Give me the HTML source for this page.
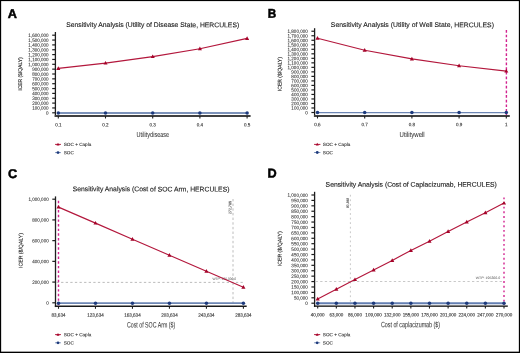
<!DOCTYPE html>
<html><head><meta charset="utf-8"><style>
html,body{margin:0;padding:0;background:#fff;}
body{width:520px;height:353px;overflow:hidden;}
svg{display:block;font-family:"Liberation Sans", sans-serif;will-change:transform;text-rendering:geometricPrecision;}
</style></head><body>
<svg width="520" height="353" viewBox="0 0 520 353">
<rect x="0" y="0" width="520" height="353" fill="#000"/>
<rect x="1.15" y="1.1" width="517.7" height="350.55" fill="#fff"/>
<line x1="52.20" y1="112.80" x2="55.40" y2="112.80" stroke="#1e1e1e" stroke-width="1.2"/>
<text x="48.60" y="114.70" font-size="5.0" text-anchor="end" fill="#262626" font-weight="normal" textLength="2.53" lengthAdjust="spacingAndGlyphs" stroke="#262626" stroke-width="0.06" transform="rotate(0.06 48.60 114.70)">0</text>
<line x1="52.20" y1="107.95" x2="55.40" y2="107.95" stroke="#1e1e1e" stroke-width="1.2"/>
<text x="48.60" y="109.85" font-size="5.0" text-anchor="end" fill="#262626" font-weight="normal" textLength="16.44" lengthAdjust="spacingAndGlyphs" stroke="#262626" stroke-width="0.06" transform="rotate(0.06 48.60 109.85)">100,000</text>
<line x1="52.20" y1="103.10" x2="55.40" y2="103.10" stroke="#1e1e1e" stroke-width="1.2"/>
<text x="48.60" y="105.00" font-size="5.0" text-anchor="end" fill="#262626" font-weight="normal" textLength="16.44" lengthAdjust="spacingAndGlyphs" stroke="#262626" stroke-width="0.06" transform="rotate(0.06 48.60 105.00)">200,000</text>
<line x1="52.20" y1="98.25" x2="55.40" y2="98.25" stroke="#1e1e1e" stroke-width="1.2"/>
<text x="48.60" y="100.15" font-size="5.0" text-anchor="end" fill="#262626" font-weight="normal" textLength="16.44" lengthAdjust="spacingAndGlyphs" stroke="#262626" stroke-width="0.06" transform="rotate(0.06 48.60 100.15)">300,000</text>
<line x1="52.20" y1="93.40" x2="55.40" y2="93.40" stroke="#1e1e1e" stroke-width="1.2"/>
<text x="48.60" y="95.30" font-size="5.0" text-anchor="end" fill="#262626" font-weight="normal" textLength="16.44" lengthAdjust="spacingAndGlyphs" stroke="#262626" stroke-width="0.06" transform="rotate(0.06 48.60 95.30)">400,000</text>
<line x1="52.20" y1="88.55" x2="55.40" y2="88.55" stroke="#1e1e1e" stroke-width="1.2"/>
<text x="48.60" y="90.45" font-size="5.0" text-anchor="end" fill="#262626" font-weight="normal" textLength="16.44" lengthAdjust="spacingAndGlyphs" stroke="#262626" stroke-width="0.06" transform="rotate(0.06 48.60 90.45)">500,000</text>
<line x1="52.20" y1="83.70" x2="55.40" y2="83.70" stroke="#1e1e1e" stroke-width="1.2"/>
<text x="48.60" y="85.60" font-size="5.0" text-anchor="end" fill="#262626" font-weight="normal" textLength="16.44" lengthAdjust="spacingAndGlyphs" stroke="#262626" stroke-width="0.06" transform="rotate(0.06 48.60 85.60)">600,000</text>
<line x1="52.20" y1="78.85" x2="55.40" y2="78.85" stroke="#1e1e1e" stroke-width="1.2"/>
<text x="48.60" y="80.75" font-size="5.0" text-anchor="end" fill="#262626" font-weight="normal" textLength="16.44" lengthAdjust="spacingAndGlyphs" stroke="#262626" stroke-width="0.06" transform="rotate(0.06 48.60 80.75)">700,000</text>
<line x1="52.20" y1="74.00" x2="55.40" y2="74.00" stroke="#1e1e1e" stroke-width="1.2"/>
<text x="48.60" y="75.90" font-size="5.0" text-anchor="end" fill="#262626" font-weight="normal" textLength="16.44" lengthAdjust="spacingAndGlyphs" stroke="#262626" stroke-width="0.06" transform="rotate(0.06 48.60 75.90)">800,000</text>
<line x1="52.20" y1="69.15" x2="55.40" y2="69.15" stroke="#1e1e1e" stroke-width="1.2"/>
<text x="48.60" y="71.05" font-size="5.0" text-anchor="end" fill="#262626" font-weight="normal" textLength="16.44" lengthAdjust="spacingAndGlyphs" stroke="#262626" stroke-width="0.06" transform="rotate(0.06 48.60 71.05)">900,000</text>
<line x1="52.20" y1="64.30" x2="55.40" y2="64.30" stroke="#1e1e1e" stroke-width="1.2"/>
<text x="48.60" y="66.20" font-size="5.0" text-anchor="end" fill="#262626" font-weight="normal" textLength="20.24" lengthAdjust="spacingAndGlyphs" stroke="#262626" stroke-width="0.06" transform="rotate(0.06 48.60 66.20)">1,000,000</text>
<line x1="52.20" y1="59.45" x2="55.40" y2="59.45" stroke="#1e1e1e" stroke-width="1.2"/>
<text x="48.60" y="61.35" font-size="5.0" text-anchor="end" fill="#262626" font-weight="normal" textLength="20.24" lengthAdjust="spacingAndGlyphs" stroke="#262626" stroke-width="0.06" transform="rotate(0.06 48.60 61.35)">1,100,000</text>
<line x1="52.20" y1="54.60" x2="55.40" y2="54.60" stroke="#1e1e1e" stroke-width="1.2"/>
<text x="48.60" y="56.50" font-size="5.0" text-anchor="end" fill="#262626" font-weight="normal" textLength="20.24" lengthAdjust="spacingAndGlyphs" stroke="#262626" stroke-width="0.06" transform="rotate(0.06 48.60 56.50)">1,200,000</text>
<line x1="52.20" y1="49.75" x2="55.40" y2="49.75" stroke="#1e1e1e" stroke-width="1.2"/>
<text x="48.60" y="51.65" font-size="5.0" text-anchor="end" fill="#262626" font-weight="normal" textLength="20.24" lengthAdjust="spacingAndGlyphs" stroke="#262626" stroke-width="0.06" transform="rotate(0.06 48.60 51.65)">1,300,000</text>
<line x1="52.20" y1="44.90" x2="55.40" y2="44.90" stroke="#1e1e1e" stroke-width="1.2"/>
<text x="48.60" y="46.80" font-size="5.0" text-anchor="end" fill="#262626" font-weight="normal" textLength="20.24" lengthAdjust="spacingAndGlyphs" stroke="#262626" stroke-width="0.06" transform="rotate(0.06 48.60 46.80)">1,400,000</text>
<line x1="52.20" y1="40.05" x2="55.40" y2="40.05" stroke="#1e1e1e" stroke-width="1.2"/>
<text x="48.60" y="41.95" font-size="5.0" text-anchor="end" fill="#262626" font-weight="normal" textLength="20.24" lengthAdjust="spacingAndGlyphs" stroke="#262626" stroke-width="0.06" transform="rotate(0.06 48.60 41.95)">1,500,000</text>
<line x1="52.20" y1="35.20" x2="55.40" y2="35.20" stroke="#1e1e1e" stroke-width="1.2"/>
<text x="48.60" y="37.10" font-size="5.0" text-anchor="end" fill="#262626" font-weight="normal" textLength="20.24" lengthAdjust="spacingAndGlyphs" stroke="#262626" stroke-width="0.06" transform="rotate(0.06 48.60 37.10)">1,600,000</text>
<line x1="55.40" y1="32.00" x2="55.40" y2="116.95" stroke="#1e1e1e" stroke-width="1.3"/>
<line x1="54.75" y1="116.00" x2="250.60" y2="116.00" stroke="#404040" stroke-width="1.9"/>
<line x1="58.30" y1="116.00" x2="58.30" y2="118.50" stroke="#1e1e1e" stroke-width="1.1"/>
<text x="58.30" y="126.40" font-size="5.0" text-anchor="middle" fill="#262626" font-weight="normal" textLength="6.32" lengthAdjust="spacingAndGlyphs" stroke="#262626" stroke-width="0.1" transform="rotate(0.06 58.30 126.40)">0.1</text>
<line x1="105.50" y1="116.00" x2="105.50" y2="118.50" stroke="#1e1e1e" stroke-width="1.1"/>
<text x="105.50" y="126.40" font-size="5.0" text-anchor="middle" fill="#262626" font-weight="normal" textLength="6.32" lengthAdjust="spacingAndGlyphs" stroke="#262626" stroke-width="0.1" transform="rotate(0.06 105.50 126.40)">0.2</text>
<line x1="152.70" y1="116.00" x2="152.70" y2="118.50" stroke="#1e1e1e" stroke-width="1.1"/>
<text x="152.70" y="126.40" font-size="5.0" text-anchor="middle" fill="#262626" font-weight="normal" textLength="6.32" lengthAdjust="spacingAndGlyphs" stroke="#262626" stroke-width="0.1" transform="rotate(0.06 152.70 126.40)">0.3</text>
<line x1="199.90" y1="116.00" x2="199.90" y2="118.50" stroke="#1e1e1e" stroke-width="1.1"/>
<text x="199.90" y="126.40" font-size="5.0" text-anchor="middle" fill="#262626" font-weight="normal" textLength="6.32" lengthAdjust="spacingAndGlyphs" stroke="#262626" stroke-width="0.1" transform="rotate(0.06 199.90 126.40)">0.4</text>
<line x1="247.10" y1="116.00" x2="247.10" y2="118.50" stroke="#1e1e1e" stroke-width="1.1"/>
<text x="247.10" y="126.40" font-size="5.0" text-anchor="middle" fill="#262626" font-weight="normal" textLength="6.32" lengthAdjust="spacingAndGlyphs" stroke="#262626" stroke-width="0.1" transform="rotate(0.06 247.10 126.40)">0.5</text>
<line x1="58.30" y1="113.00" x2="247.10" y2="113.00" stroke="#7d93ba" stroke-width="1.9"/>
<circle cx="58.30" cy="113.00" r="1.75" fill="#1e3b7d"/>
<circle cx="105.50" cy="113.00" r="1.75" fill="#1e3b7d"/>
<circle cx="152.70" cy="113.00" r="1.75" fill="#1e3b7d"/>
<circle cx="199.90" cy="113.00" r="1.75" fill="#1e3b7d"/>
<circle cx="247.10" cy="113.00" r="1.75" fill="#1e3b7d"/>
<polyline fill="none" stroke="#b3173c" stroke-width="1.15" points="58.30,68.40 105.50,63.10 152.70,56.60 199.90,48.80 247.10,38.40"/>
<path d="M58.30,66.19 L60.35,69.88 L56.25,69.88Z" fill="#a5042a"/>
<path d="M105.50,60.89 L107.55,64.58 L103.45,64.58Z" fill="#a5042a"/>
<path d="M152.70,54.39 L154.75,58.08 L150.65,58.08Z" fill="#a5042a"/>
<path d="M199.90,46.59 L201.95,50.28 L197.85,50.28Z" fill="#a5042a"/>
<path d="M247.10,36.19 L249.15,39.88 L245.05,39.88Z" fill="#a5042a"/>
<text x="66.20" y="27.00" font-size="6.8" text-anchor="start" fill="#222" font-weight="normal" stroke="#222" stroke-width="0.12" transform="rotate(0.06 66.20 27.00)">Sensitivity Analysis (Utility of Disease State, HERCULES)</text>
<text x="136.60" y="137.00" font-size="7.3" text-anchor="start" fill="#383838" font-weight="normal" textLength="32.6" lengthAdjust="spacingAndGlyphs" stroke="#383838" stroke-width="0.06" transform="rotate(0.06 136.60 137.00)">Utilitydisease</text>
<text x="0" y="0" font-size="5.3" fill="#2a2a2a" stroke="#2a2a2a" stroke-width="0.14" text-anchor="middle" textLength="33.5" lengthAdjust="spacingAndGlyphs" transform="translate(22.1,74.0) rotate(-89.94)">ICER ($/QALY)</text>
<line x1="55.10" y1="144.40" x2="60.90" y2="144.40" stroke="#b3173c" stroke-width="1.0"/>
<path d="M58.00,142.78 L59.50,145.48 L56.50,145.48Z" fill="#a5042a"/>
<line x1="55.10" y1="152.60" x2="60.90" y2="152.60" stroke="#7d93ba" stroke-width="1.0"/>
<circle cx="58.00" cy="152.60" r="1.4" fill="#1e3b7d"/>
<text x="63.75" y="146.10" font-size="4.66" text-anchor="start" fill="#333" font-weight="normal" stroke="#333" stroke-width="0.12" transform="rotate(0.06 63.75 146.10)">SOC + Capla</text>
<text x="63.75" y="154.30" font-size="4.66" text-anchor="start" fill="#333" font-weight="normal" stroke="#333" stroke-width="0.12" transform="rotate(0.06 63.75 154.30)">SOC</text>
<text x="7.70" y="17.90" font-size="12.7" text-anchor="start" fill="#000" font-weight="bold" stroke="#000" stroke-width="0.5" transform="rotate(0.06 7.70 17.90)">A</text>
<line x1="311.40" y1="112.50" x2="314.60" y2="112.50" stroke="#1e1e1e" stroke-width="1.2"/>
<text x="307.80" y="114.40" font-size="5.0" text-anchor="end" fill="#262626" font-weight="normal" textLength="2.53" lengthAdjust="spacingAndGlyphs" stroke="#262626" stroke-width="0.06" transform="rotate(0.06 307.80 114.40)">0</text>
<line x1="311.40" y1="107.98" x2="314.60" y2="107.98" stroke="#1e1e1e" stroke-width="1.2"/>
<text x="307.80" y="109.89" font-size="5.0" text-anchor="end" fill="#262626" font-weight="normal" textLength="16.44" lengthAdjust="spacingAndGlyphs" stroke="#262626" stroke-width="0.06" transform="rotate(0.06 307.80 109.89)">100,000</text>
<line x1="311.40" y1="103.47" x2="314.60" y2="103.47" stroke="#1e1e1e" stroke-width="1.2"/>
<text x="307.80" y="105.37" font-size="5.0" text-anchor="end" fill="#262626" font-weight="normal" textLength="16.44" lengthAdjust="spacingAndGlyphs" stroke="#262626" stroke-width="0.06" transform="rotate(0.06 307.80 105.37)">200,000</text>
<line x1="311.40" y1="98.95" x2="314.60" y2="98.95" stroke="#1e1e1e" stroke-width="1.2"/>
<text x="307.80" y="100.86" font-size="5.0" text-anchor="end" fill="#262626" font-weight="normal" textLength="16.44" lengthAdjust="spacingAndGlyphs" stroke="#262626" stroke-width="0.06" transform="rotate(0.06 307.80 100.86)">300,000</text>
<line x1="311.40" y1="94.44" x2="314.60" y2="94.44" stroke="#1e1e1e" stroke-width="1.2"/>
<text x="307.80" y="96.34" font-size="5.0" text-anchor="end" fill="#262626" font-weight="normal" textLength="16.44" lengthAdjust="spacingAndGlyphs" stroke="#262626" stroke-width="0.06" transform="rotate(0.06 307.80 96.34)">400,000</text>
<line x1="311.40" y1="89.92" x2="314.60" y2="89.92" stroke="#1e1e1e" stroke-width="1.2"/>
<text x="307.80" y="91.83" font-size="5.0" text-anchor="end" fill="#262626" font-weight="normal" textLength="16.44" lengthAdjust="spacingAndGlyphs" stroke="#262626" stroke-width="0.06" transform="rotate(0.06 307.80 91.83)">500,000</text>
<line x1="311.40" y1="85.41" x2="314.60" y2="85.41" stroke="#1e1e1e" stroke-width="1.2"/>
<text x="307.80" y="87.31" font-size="5.0" text-anchor="end" fill="#262626" font-weight="normal" textLength="16.44" lengthAdjust="spacingAndGlyphs" stroke="#262626" stroke-width="0.06" transform="rotate(0.06 307.80 87.31)">600,000</text>
<line x1="311.40" y1="80.90" x2="314.60" y2="80.90" stroke="#1e1e1e" stroke-width="1.2"/>
<text x="307.80" y="82.80" font-size="5.0" text-anchor="end" fill="#262626" font-weight="normal" textLength="16.44" lengthAdjust="spacingAndGlyphs" stroke="#262626" stroke-width="0.06" transform="rotate(0.06 307.80 82.80)">700,000</text>
<line x1="311.40" y1="76.38" x2="314.60" y2="76.38" stroke="#1e1e1e" stroke-width="1.2"/>
<text x="307.80" y="78.28" font-size="5.0" text-anchor="end" fill="#262626" font-weight="normal" textLength="16.44" lengthAdjust="spacingAndGlyphs" stroke="#262626" stroke-width="0.06" transform="rotate(0.06 307.80 78.28)">800,000</text>
<line x1="311.40" y1="71.87" x2="314.60" y2="71.87" stroke="#1e1e1e" stroke-width="1.2"/>
<text x="307.80" y="73.77" font-size="5.0" text-anchor="end" fill="#262626" font-weight="normal" textLength="16.44" lengthAdjust="spacingAndGlyphs" stroke="#262626" stroke-width="0.06" transform="rotate(0.06 307.80 73.77)">900,000</text>
<line x1="311.40" y1="67.35" x2="314.60" y2="67.35" stroke="#1e1e1e" stroke-width="1.2"/>
<text x="307.80" y="69.25" font-size="5.0" text-anchor="end" fill="#262626" font-weight="normal" textLength="20.24" lengthAdjust="spacingAndGlyphs" stroke="#262626" stroke-width="0.06" transform="rotate(0.06 307.80 69.25)">1,000,000</text>
<line x1="311.40" y1="62.84" x2="314.60" y2="62.84" stroke="#1e1e1e" stroke-width="1.2"/>
<text x="307.80" y="64.73" font-size="5.0" text-anchor="end" fill="#262626" font-weight="normal" textLength="20.24" lengthAdjust="spacingAndGlyphs" stroke="#262626" stroke-width="0.06" transform="rotate(0.06 307.80 64.73)">1,100,000</text>
<line x1="311.40" y1="58.32" x2="314.60" y2="58.32" stroke="#1e1e1e" stroke-width="1.2"/>
<text x="307.80" y="60.22" font-size="5.0" text-anchor="end" fill="#262626" font-weight="normal" textLength="20.24" lengthAdjust="spacingAndGlyphs" stroke="#262626" stroke-width="0.06" transform="rotate(0.06 307.80 60.22)">1,200,000</text>
<line x1="311.40" y1="53.81" x2="314.60" y2="53.81" stroke="#1e1e1e" stroke-width="1.2"/>
<text x="307.80" y="55.71" font-size="5.0" text-anchor="end" fill="#262626" font-weight="normal" textLength="20.24" lengthAdjust="spacingAndGlyphs" stroke="#262626" stroke-width="0.06" transform="rotate(0.06 307.80 55.71)">1,300,000</text>
<line x1="311.40" y1="49.29" x2="314.60" y2="49.29" stroke="#1e1e1e" stroke-width="1.2"/>
<text x="307.80" y="51.19" font-size="5.0" text-anchor="end" fill="#262626" font-weight="normal" textLength="20.24" lengthAdjust="spacingAndGlyphs" stroke="#262626" stroke-width="0.06" transform="rotate(0.06 307.80 51.19)">1,400,000</text>
<line x1="311.40" y1="44.78" x2="314.60" y2="44.78" stroke="#1e1e1e" stroke-width="1.2"/>
<text x="307.80" y="46.68" font-size="5.0" text-anchor="end" fill="#262626" font-weight="normal" textLength="20.24" lengthAdjust="spacingAndGlyphs" stroke="#262626" stroke-width="0.06" transform="rotate(0.06 307.80 46.68)">1,500,000</text>
<line x1="311.40" y1="40.26" x2="314.60" y2="40.26" stroke="#1e1e1e" stroke-width="1.2"/>
<text x="307.80" y="42.16" font-size="5.0" text-anchor="end" fill="#262626" font-weight="normal" textLength="20.24" lengthAdjust="spacingAndGlyphs" stroke="#262626" stroke-width="0.06" transform="rotate(0.06 307.80 42.16)">1,600,000</text>
<line x1="311.40" y1="35.75" x2="314.60" y2="35.75" stroke="#1e1e1e" stroke-width="1.2"/>
<text x="307.80" y="37.65" font-size="5.0" text-anchor="end" fill="#262626" font-weight="normal" textLength="20.24" lengthAdjust="spacingAndGlyphs" stroke="#262626" stroke-width="0.06" transform="rotate(0.06 307.80 37.65)">1,700,000</text>
<line x1="311.40" y1="31.23" x2="314.60" y2="31.23" stroke="#1e1e1e" stroke-width="1.2"/>
<text x="307.80" y="33.13" font-size="5.0" text-anchor="end" fill="#262626" font-weight="normal" textLength="20.24" lengthAdjust="spacingAndGlyphs" stroke="#262626" stroke-width="0.06" transform="rotate(0.06 307.80 33.13)">1,800,000</text>
<line x1="314.60" y1="28.20" x2="314.60" y2="116.95" stroke="#1e1e1e" stroke-width="1.3"/>
<line x1="313.95" y1="116.00" x2="509.80" y2="116.00" stroke="#404040" stroke-width="1.9"/>
<line x1="317.50" y1="116.00" x2="317.50" y2="118.50" stroke="#1e1e1e" stroke-width="1.1"/>
<text x="317.50" y="126.30" font-size="5.0" text-anchor="middle" fill="#262626" font-weight="normal" textLength="6.32" lengthAdjust="spacingAndGlyphs" stroke="#262626" stroke-width="0.1" transform="rotate(0.06 317.50 126.30)">0.6</text>
<line x1="364.70" y1="116.00" x2="364.70" y2="118.50" stroke="#1e1e1e" stroke-width="1.1"/>
<text x="364.70" y="126.30" font-size="5.0" text-anchor="middle" fill="#262626" font-weight="normal" textLength="6.32" lengthAdjust="spacingAndGlyphs" stroke="#262626" stroke-width="0.1" transform="rotate(0.06 364.70 126.30)">0.7</text>
<line x1="411.90" y1="116.00" x2="411.90" y2="118.50" stroke="#1e1e1e" stroke-width="1.1"/>
<text x="411.90" y="126.30" font-size="5.0" text-anchor="middle" fill="#262626" font-weight="normal" textLength="6.32" lengthAdjust="spacingAndGlyphs" stroke="#262626" stroke-width="0.1" transform="rotate(0.06 411.90 126.30)">0.8</text>
<line x1="459.10" y1="116.00" x2="459.10" y2="118.50" stroke="#1e1e1e" stroke-width="1.1"/>
<text x="459.10" y="126.30" font-size="5.0" text-anchor="middle" fill="#262626" font-weight="normal" textLength="6.32" lengthAdjust="spacingAndGlyphs" stroke="#262626" stroke-width="0.1" transform="rotate(0.06 459.10 126.30)">0.9</text>
<line x1="506.30" y1="116.00" x2="506.30" y2="118.50" stroke="#1e1e1e" stroke-width="1.1"/>
<text x="506.30" y="126.30" font-size="5.0" text-anchor="middle" fill="#262626" font-weight="normal" textLength="2.53" lengthAdjust="spacingAndGlyphs" stroke="#262626" stroke-width="0.1" transform="rotate(0.06 506.30 126.30)">1</text>
<line x1="506.40" y1="30.00" x2="506.40" y2="115.00" stroke="#d2228f" stroke-width="1.4" stroke-dasharray="2.7 1.95"/>
<line x1="317.50" y1="112.60" x2="506.30" y2="112.60" stroke="#6d86b4" stroke-width="1.4"/>
<circle cx="317.50" cy="112.60" r="1.75" fill="#1e3b7d"/>
<circle cx="364.70" cy="112.60" r="1.75" fill="#1e3b7d"/>
<circle cx="411.90" cy="112.60" r="1.75" fill="#1e3b7d"/>
<circle cx="459.10" cy="112.60" r="1.75" fill="#1e3b7d"/>
<circle cx="506.30" cy="112.60" r="1.75" fill="#1e3b7d"/>
<polyline fill="none" stroke="#b3173c" stroke-width="1.15" points="317.50,38.30 364.70,50.20 411.90,58.90 459.10,65.80 506.30,71.10"/>
<path d="M317.50,36.09 L319.55,39.78 L315.45,39.78Z" fill="#a5042a"/>
<path d="M364.70,47.99 L366.75,51.68 L362.65,51.68Z" fill="#a5042a"/>
<path d="M411.90,56.69 L413.95,60.38 L409.85,60.38Z" fill="#a5042a"/>
<path d="M459.10,63.59 L461.15,67.28 L457.05,67.28Z" fill="#a5042a"/>
<path d="M506.30,68.89 L508.35,72.58 L504.25,72.58Z" fill="#a5042a"/>
<text x="330.80" y="27.00" font-size="6.8" text-anchor="start" fill="#222" font-weight="normal" textLength="163.2" lengthAdjust="spacingAndGlyphs" stroke="#222" stroke-width="0.12" transform="rotate(0.06 330.80 27.00)">Sensitivity Analysis (Utility of Well State, HERCULES)</text>
<text x="399.60" y="137.00" font-size="7.3" text-anchor="start" fill="#383838" font-weight="normal" textLength="25.1" lengthAdjust="spacingAndGlyphs" stroke="#383838" stroke-width="0.06" transform="rotate(0.06 399.60 137.00)">Utilitywell</text>
<text x="0" y="0" font-size="5.3" fill="#2a2a2a" stroke="#2a2a2a" stroke-width="0.14" text-anchor="middle" textLength="34" lengthAdjust="spacingAndGlyphs" transform="translate(281.5,74.1) rotate(-89.94)">ICER ($/QALY)</text>
<line x1="314.10" y1="144.40" x2="320.40" y2="144.40" stroke="#b3173c" stroke-width="1.0"/>
<path d="M317.25,142.78 L318.75,145.48 L315.75,145.48Z" fill="#a5042a"/>
<line x1="314.10" y1="152.50" x2="320.40" y2="152.50" stroke="#7d93ba" stroke-width="1.0"/>
<circle cx="317.25" cy="152.50" r="1.4" fill="#1e3b7d"/>
<text x="322.80" y="146.10" font-size="4.66" text-anchor="start" fill="#333" font-weight="normal" stroke="#333" stroke-width="0.12" transform="rotate(0.06 322.80 146.10)">SOC + Capla</text>
<text x="322.80" y="154.20" font-size="4.66" text-anchor="start" fill="#333" font-weight="normal" stroke="#333" stroke-width="0.12" transform="rotate(0.06 322.80 154.20)">SOC</text>
<text x="267.70" y="17.80" font-size="12.7" text-anchor="start" fill="#000" font-weight="bold" textLength="8.5" lengthAdjust="spacingAndGlyphs" stroke="#000" stroke-width="0.5" transform="rotate(0.06 267.70 17.80)">B</text>
<line x1="52.30" y1="302.80" x2="55.50" y2="302.80" stroke="#1e1e1e" stroke-width="1.2"/>
<text x="48.70" y="304.70" font-size="5.0" text-anchor="end" fill="#262626" font-weight="normal" textLength="2.53" lengthAdjust="spacingAndGlyphs" stroke="#262626" stroke-width="0.06" transform="rotate(0.06 48.70 304.70)">0</text>
<line x1="52.30" y1="282.08" x2="55.50" y2="282.08" stroke="#1e1e1e" stroke-width="1.2"/>
<text x="48.70" y="283.98" font-size="5.0" text-anchor="end" fill="#262626" font-weight="normal" textLength="16.44" lengthAdjust="spacingAndGlyphs" stroke="#262626" stroke-width="0.06" transform="rotate(0.06 48.70 283.98)">200,000</text>
<line x1="52.30" y1="261.36" x2="55.50" y2="261.36" stroke="#1e1e1e" stroke-width="1.2"/>
<text x="48.70" y="263.26" font-size="5.0" text-anchor="end" fill="#262626" font-weight="normal" textLength="16.44" lengthAdjust="spacingAndGlyphs" stroke="#262626" stroke-width="0.06" transform="rotate(0.06 48.70 263.26)">400,000</text>
<line x1="52.30" y1="240.64" x2="55.50" y2="240.64" stroke="#1e1e1e" stroke-width="1.2"/>
<text x="48.70" y="242.54" font-size="5.0" text-anchor="end" fill="#262626" font-weight="normal" textLength="16.44" lengthAdjust="spacingAndGlyphs" stroke="#262626" stroke-width="0.06" transform="rotate(0.06 48.70 242.54)">600,000</text>
<line x1="52.30" y1="219.92" x2="55.50" y2="219.92" stroke="#1e1e1e" stroke-width="1.2"/>
<text x="48.70" y="221.82" font-size="5.0" text-anchor="end" fill="#262626" font-weight="normal" textLength="16.44" lengthAdjust="spacingAndGlyphs" stroke="#262626" stroke-width="0.06" transform="rotate(0.06 48.70 221.82)">800,000</text>
<line x1="52.30" y1="199.20" x2="55.50" y2="199.20" stroke="#1e1e1e" stroke-width="1.2"/>
<text x="48.70" y="201.10" font-size="5.0" text-anchor="end" fill="#262626" font-weight="normal" textLength="20.24" lengthAdjust="spacingAndGlyphs" stroke="#262626" stroke-width="0.06" transform="rotate(0.06 48.70 201.10)">1,000,000</text>
<line x1="55.50" y1="196.40" x2="55.50" y2="307.05" stroke="#1e1e1e" stroke-width="1.3"/>
<line x1="54.85" y1="306.30" x2="246.70" y2="306.30" stroke="#1a1a1a" stroke-width="1.5"/>
<line x1="58.50" y1="306.30" x2="58.50" y2="308.80" stroke="#1e1e1e" stroke-width="1.1"/>
<text x="58.50" y="316.80" font-size="5.0" text-anchor="middle" fill="#262626" font-weight="normal" textLength="13.91" lengthAdjust="spacingAndGlyphs" stroke="#262626" stroke-width="0.1" transform="rotate(0.06 58.50 316.80)">83,634</text>
<line x1="95.48" y1="306.30" x2="95.48" y2="308.80" stroke="#1e1e1e" stroke-width="1.1"/>
<text x="95.48" y="316.80" font-size="5.0" text-anchor="middle" fill="#262626" font-weight="normal" textLength="16.44" lengthAdjust="spacingAndGlyphs" stroke="#262626" stroke-width="0.1" transform="rotate(0.06 95.48 316.80)">123,634</text>
<line x1="132.46" y1="306.30" x2="132.46" y2="308.80" stroke="#1e1e1e" stroke-width="1.1"/>
<text x="132.46" y="316.80" font-size="5.0" text-anchor="middle" fill="#262626" font-weight="normal" textLength="16.44" lengthAdjust="spacingAndGlyphs" stroke="#262626" stroke-width="0.1" transform="rotate(0.06 132.46 316.80)">163,634</text>
<line x1="169.44" y1="306.30" x2="169.44" y2="308.80" stroke="#1e1e1e" stroke-width="1.1"/>
<text x="169.44" y="316.80" font-size="5.0" text-anchor="middle" fill="#262626" font-weight="normal" textLength="16.44" lengthAdjust="spacingAndGlyphs" stroke="#262626" stroke-width="0.1" transform="rotate(0.06 169.44 316.80)">203,634</text>
<line x1="206.42" y1="306.30" x2="206.42" y2="308.80" stroke="#1e1e1e" stroke-width="1.1"/>
<text x="206.42" y="316.80" font-size="5.0" text-anchor="middle" fill="#262626" font-weight="normal" textLength="16.44" lengthAdjust="spacingAndGlyphs" stroke="#262626" stroke-width="0.1" transform="rotate(0.06 206.42 316.80)">243,634</text>
<line x1="243.40" y1="306.30" x2="243.40" y2="308.80" stroke="#1e1e1e" stroke-width="1.1"/>
<text x="243.40" y="316.80" font-size="5.0" text-anchor="middle" fill="#262626" font-weight="normal" textLength="16.44" lengthAdjust="spacingAndGlyphs" stroke="#262626" stroke-width="0.1" transform="rotate(0.06 243.40 316.80)">283,634</text>
<line x1="233.00" y1="199.00" x2="233.00" y2="305.30" stroke="#b4b4b4" stroke-width="0.9" stroke-dasharray="2.4 2.25"/>
<text x="0" y="0" font-size="3.6" fill="#3a3a3a" stroke="#3a3a3a" stroke-width="0.08" text-anchor="middle" textLength="13.0" lengthAdjust="spacingAndGlyphs" transform="translate(231.3,207.55) rotate(-89.94)">272,786</text>
<line x1="56.50" y1="282.40" x2="243.80" y2="282.40" stroke="#b4b4b4" stroke-width="0.9" stroke-dasharray="2.3 2.3"/>
<text x="212.40" y="279.90" font-size="3.4" text-anchor="start" fill="#666" font-weight="normal" textLength="23.8" lengthAdjust="spacingAndGlyphs" stroke="#666" stroke-width="0.04" transform="rotate(0.06 212.40 279.90)">WTP: 195,000.0</text>
<line x1="58.50" y1="200.80" x2="58.50" y2="305.30" stroke="#d2228f" stroke-width="1.4" stroke-dasharray="2.4 2.25"/>
<line x1="58.50" y1="303.20" x2="243.40" y2="303.20" stroke="#6e87b4" stroke-width="1.7"/>
<circle cx="58.50" cy="303.20" r="1.75" fill="#1e3b7d"/>
<circle cx="95.48" cy="303.20" r="1.75" fill="#1e3b7d"/>
<circle cx="132.46" cy="303.20" r="1.75" fill="#1e3b7d"/>
<circle cx="169.44" cy="303.20" r="1.75" fill="#1e3b7d"/>
<circle cx="206.42" cy="303.20" r="1.75" fill="#1e3b7d"/>
<circle cx="243.40" cy="303.20" r="1.75" fill="#1e3b7d"/>
<polyline fill="none" stroke="#b3173c" stroke-width="1.15" points="58.50,207.10 95.48,223.10 132.46,239.30 169.44,255.30 206.42,271.30 243.40,287.20"/>
<path d="M58.50,204.89 L60.55,208.58 L56.45,208.58Z" fill="#a5042a"/>
<path d="M95.48,220.89 L97.53,224.58 L93.43,224.58Z" fill="#a5042a"/>
<path d="M132.46,237.09 L134.51,240.78 L130.41,240.78Z" fill="#a5042a"/>
<path d="M169.44,253.09 L171.49,256.78 L167.39,256.78Z" fill="#a5042a"/>
<path d="M206.42,269.09 L208.47,272.78 L204.37,272.78Z" fill="#a5042a"/>
<path d="M243.40,284.99 L245.45,288.68 L241.35,288.68Z" fill="#a5042a"/>
<text x="72.70" y="191.30" font-size="6.8" text-anchor="start" fill="#222" font-weight="normal" stroke="#222" stroke-width="0.12" transform="rotate(0.06 72.70 191.30)">Sensitivity Analysis (Cost of SOC Arm, HERCULES)</text>
<text x="127.00" y="327.40" font-size="7.9" text-anchor="start" fill="#383838" font-weight="normal" textLength="48.2" lengthAdjust="spacingAndGlyphs" stroke="#383838" stroke-width="0.06" transform="rotate(0.06 127.00 327.40)">Cost of SOC Arm ($)</text>
<text x="0" y="0" font-size="5.3" fill="#2a2a2a" stroke="#2a2a2a" stroke-width="0.14" text-anchor="middle" textLength="35" lengthAdjust="spacingAndGlyphs" transform="translate(22.6,250.5) rotate(-89.94)">ICER ($/QALY)</text>
<line x1="55.10" y1="334.60" x2="60.90" y2="334.60" stroke="#b3173c" stroke-width="1.0"/>
<path d="M58.00,332.98 L59.50,335.68 L56.50,335.68Z" fill="#a5042a"/>
<line x1="55.10" y1="342.80" x2="60.90" y2="342.80" stroke="#7d93ba" stroke-width="1.0"/>
<circle cx="58.00" cy="342.80" r="1.4" fill="#1e3b7d"/>
<text x="63.75" y="336.30" font-size="4.66" text-anchor="start" fill="#333" font-weight="normal" stroke="#333" stroke-width="0.12" transform="rotate(0.06 63.75 336.30)">SOC + Capla</text>
<text x="63.75" y="344.50" font-size="4.66" text-anchor="start" fill="#333" font-weight="normal" stroke="#333" stroke-width="0.12" transform="rotate(0.06 63.75 344.50)">SOC</text>
<text x="7.90" y="178.00" font-size="12.7" text-anchor="start" fill="#000" font-weight="bold" stroke="#000" stroke-width="0.5" transform="rotate(0.06 7.90 178.00)">C</text>
<line x1="311.40" y1="303.20" x2="314.60" y2="303.20" stroke="#1e1e1e" stroke-width="1.2"/>
<text x="307.80" y="305.10" font-size="5.0" text-anchor="end" fill="#262626" font-weight="normal" textLength="2.53" lengthAdjust="spacingAndGlyphs" stroke="#262626" stroke-width="0.06" transform="rotate(0.06 307.80 305.10)">0</text>
<line x1="311.40" y1="297.79" x2="314.60" y2="297.79" stroke="#1e1e1e" stroke-width="1.2"/>
<text x="307.80" y="299.69" font-size="5.0" text-anchor="end" fill="#262626" font-weight="normal" textLength="13.91" lengthAdjust="spacingAndGlyphs" stroke="#262626" stroke-width="0.06" transform="rotate(0.06 307.80 299.69)">50,000</text>
<line x1="311.40" y1="292.38" x2="314.60" y2="292.38" stroke="#1e1e1e" stroke-width="1.2"/>
<text x="307.80" y="294.28" font-size="5.0" text-anchor="end" fill="#262626" font-weight="normal" textLength="16.44" lengthAdjust="spacingAndGlyphs" stroke="#262626" stroke-width="0.06" transform="rotate(0.06 307.80 294.28)">100,000</text>
<line x1="311.40" y1="286.97" x2="314.60" y2="286.97" stroke="#1e1e1e" stroke-width="1.2"/>
<text x="307.80" y="288.87" font-size="5.0" text-anchor="end" fill="#262626" font-weight="normal" textLength="16.44" lengthAdjust="spacingAndGlyphs" stroke="#262626" stroke-width="0.06" transform="rotate(0.06 307.80 288.87)">150,000</text>
<line x1="311.40" y1="281.56" x2="314.60" y2="281.56" stroke="#1e1e1e" stroke-width="1.2"/>
<text x="307.80" y="283.46" font-size="5.0" text-anchor="end" fill="#262626" font-weight="normal" textLength="16.44" lengthAdjust="spacingAndGlyphs" stroke="#262626" stroke-width="0.06" transform="rotate(0.06 307.80 283.46)">200,000</text>
<line x1="311.40" y1="276.15" x2="314.60" y2="276.15" stroke="#1e1e1e" stroke-width="1.2"/>
<text x="307.80" y="278.05" font-size="5.0" text-anchor="end" fill="#262626" font-weight="normal" textLength="16.44" lengthAdjust="spacingAndGlyphs" stroke="#262626" stroke-width="0.06" transform="rotate(0.06 307.80 278.05)">250,000</text>
<line x1="311.40" y1="270.74" x2="314.60" y2="270.74" stroke="#1e1e1e" stroke-width="1.2"/>
<text x="307.80" y="272.64" font-size="5.0" text-anchor="end" fill="#262626" font-weight="normal" textLength="16.44" lengthAdjust="spacingAndGlyphs" stroke="#262626" stroke-width="0.06" transform="rotate(0.06 307.80 272.64)">300,000</text>
<line x1="311.40" y1="265.33" x2="314.60" y2="265.33" stroke="#1e1e1e" stroke-width="1.2"/>
<text x="307.80" y="267.23" font-size="5.0" text-anchor="end" fill="#262626" font-weight="normal" textLength="16.44" lengthAdjust="spacingAndGlyphs" stroke="#262626" stroke-width="0.06" transform="rotate(0.06 307.80 267.23)">350,000</text>
<line x1="311.40" y1="259.92" x2="314.60" y2="259.92" stroke="#1e1e1e" stroke-width="1.2"/>
<text x="307.80" y="261.82" font-size="5.0" text-anchor="end" fill="#262626" font-weight="normal" textLength="16.44" lengthAdjust="spacingAndGlyphs" stroke="#262626" stroke-width="0.06" transform="rotate(0.06 307.80 261.82)">400,000</text>
<line x1="311.40" y1="254.51" x2="314.60" y2="254.51" stroke="#1e1e1e" stroke-width="1.2"/>
<text x="307.80" y="256.41" font-size="5.0" text-anchor="end" fill="#262626" font-weight="normal" textLength="16.44" lengthAdjust="spacingAndGlyphs" stroke="#262626" stroke-width="0.06" transform="rotate(0.06 307.80 256.41)">450,000</text>
<line x1="311.40" y1="249.10" x2="314.60" y2="249.10" stroke="#1e1e1e" stroke-width="1.2"/>
<text x="307.80" y="251.00" font-size="5.0" text-anchor="end" fill="#262626" font-weight="normal" textLength="16.44" lengthAdjust="spacingAndGlyphs" stroke="#262626" stroke-width="0.06" transform="rotate(0.06 307.80 251.00)">500,000</text>
<line x1="311.40" y1="243.69" x2="314.60" y2="243.69" stroke="#1e1e1e" stroke-width="1.2"/>
<text x="307.80" y="245.59" font-size="5.0" text-anchor="end" fill="#262626" font-weight="normal" textLength="16.44" lengthAdjust="spacingAndGlyphs" stroke="#262626" stroke-width="0.06" transform="rotate(0.06 307.80 245.59)">550,000</text>
<line x1="311.40" y1="238.28" x2="314.60" y2="238.28" stroke="#1e1e1e" stroke-width="1.2"/>
<text x="307.80" y="240.18" font-size="5.0" text-anchor="end" fill="#262626" font-weight="normal" textLength="16.44" lengthAdjust="spacingAndGlyphs" stroke="#262626" stroke-width="0.06" transform="rotate(0.06 307.80 240.18)">600,000</text>
<line x1="311.40" y1="232.87" x2="314.60" y2="232.87" stroke="#1e1e1e" stroke-width="1.2"/>
<text x="307.80" y="234.77" font-size="5.0" text-anchor="end" fill="#262626" font-weight="normal" textLength="16.44" lengthAdjust="spacingAndGlyphs" stroke="#262626" stroke-width="0.06" transform="rotate(0.06 307.80 234.77)">650,000</text>
<line x1="311.40" y1="227.46" x2="314.60" y2="227.46" stroke="#1e1e1e" stroke-width="1.2"/>
<text x="307.80" y="229.36" font-size="5.0" text-anchor="end" fill="#262626" font-weight="normal" textLength="16.44" lengthAdjust="spacingAndGlyphs" stroke="#262626" stroke-width="0.06" transform="rotate(0.06 307.80 229.36)">700,000</text>
<line x1="311.40" y1="222.05" x2="314.60" y2="222.05" stroke="#1e1e1e" stroke-width="1.2"/>
<text x="307.80" y="223.95" font-size="5.0" text-anchor="end" fill="#262626" font-weight="normal" textLength="16.44" lengthAdjust="spacingAndGlyphs" stroke="#262626" stroke-width="0.06" transform="rotate(0.06 307.80 223.95)">750,000</text>
<line x1="311.40" y1="216.64" x2="314.60" y2="216.64" stroke="#1e1e1e" stroke-width="1.2"/>
<text x="307.80" y="218.54" font-size="5.0" text-anchor="end" fill="#262626" font-weight="normal" textLength="16.44" lengthAdjust="spacingAndGlyphs" stroke="#262626" stroke-width="0.06" transform="rotate(0.06 307.80 218.54)">800,000</text>
<line x1="311.40" y1="211.23" x2="314.60" y2="211.23" stroke="#1e1e1e" stroke-width="1.2"/>
<text x="307.80" y="213.13" font-size="5.0" text-anchor="end" fill="#262626" font-weight="normal" textLength="16.44" lengthAdjust="spacingAndGlyphs" stroke="#262626" stroke-width="0.06" transform="rotate(0.06 307.80 213.13)">850,000</text>
<line x1="311.40" y1="205.82" x2="314.60" y2="205.82" stroke="#1e1e1e" stroke-width="1.2"/>
<text x="307.80" y="207.72" font-size="5.0" text-anchor="end" fill="#262626" font-weight="normal" textLength="16.44" lengthAdjust="spacingAndGlyphs" stroke="#262626" stroke-width="0.06" transform="rotate(0.06 307.80 207.72)">900,000</text>
<line x1="311.40" y1="200.41" x2="314.60" y2="200.41" stroke="#1e1e1e" stroke-width="1.2"/>
<text x="307.80" y="202.31" font-size="5.0" text-anchor="end" fill="#262626" font-weight="normal" textLength="16.44" lengthAdjust="spacingAndGlyphs" stroke="#262626" stroke-width="0.06" transform="rotate(0.06 307.80 202.31)">950,000</text>
<line x1="311.40" y1="195.00" x2="314.60" y2="195.00" stroke="#1e1e1e" stroke-width="1.2"/>
<text x="307.80" y="196.90" font-size="5.0" text-anchor="end" fill="#262626" font-weight="normal" textLength="20.24" lengthAdjust="spacingAndGlyphs" stroke="#262626" stroke-width="0.06" transform="rotate(0.06 307.80 196.90)">1,000,000</text>
<line x1="314.60" y1="191.80" x2="314.60" y2="306.68" stroke="#1e1e1e" stroke-width="1.3"/>
<line x1="313.95" y1="306.10" x2="507.80" y2="306.10" stroke="#000" stroke-width="1.15"/>
<line x1="317.70" y1="306.10" x2="317.70" y2="308.60" stroke="#1e1e1e" stroke-width="1.1"/>
<text x="317.70" y="316.50" font-size="5.0" text-anchor="middle" fill="#262626" font-weight="normal" textLength="13.91" lengthAdjust="spacingAndGlyphs" stroke="#262626" stroke-width="0.1" transform="rotate(0.06 317.70 316.50)">40,000</text>
<line x1="336.33" y1="306.10" x2="336.33" y2="308.60" stroke="#1e1e1e" stroke-width="1.1"/>
<text x="336.33" y="316.50" font-size="5.0" text-anchor="middle" fill="#262626" font-weight="normal" textLength="13.91" lengthAdjust="spacingAndGlyphs" stroke="#262626" stroke-width="0.1" transform="rotate(0.06 336.33 316.50)">63,000</text>
<line x1="354.96" y1="306.10" x2="354.96" y2="308.60" stroke="#1e1e1e" stroke-width="1.1"/>
<text x="354.96" y="316.50" font-size="5.0" text-anchor="middle" fill="#262626" font-weight="normal" textLength="13.91" lengthAdjust="spacingAndGlyphs" stroke="#262626" stroke-width="0.1" transform="rotate(0.06 354.96 316.50)">86,000</text>
<line x1="373.59" y1="306.10" x2="373.59" y2="308.60" stroke="#1e1e1e" stroke-width="1.1"/>
<text x="373.59" y="316.50" font-size="5.0" text-anchor="middle" fill="#262626" font-weight="normal" textLength="16.44" lengthAdjust="spacingAndGlyphs" stroke="#262626" stroke-width="0.1" transform="rotate(0.06 373.59 316.50)">109,000</text>
<line x1="392.22" y1="306.10" x2="392.22" y2="308.60" stroke="#1e1e1e" stroke-width="1.1"/>
<text x="392.22" y="316.50" font-size="5.0" text-anchor="middle" fill="#262626" font-weight="normal" textLength="16.44" lengthAdjust="spacingAndGlyphs" stroke="#262626" stroke-width="0.1" transform="rotate(0.06 392.22 316.50)">132,000</text>
<line x1="410.85" y1="306.10" x2="410.85" y2="308.60" stroke="#1e1e1e" stroke-width="1.1"/>
<text x="410.85" y="316.50" font-size="5.0" text-anchor="middle" fill="#262626" font-weight="normal" textLength="16.44" lengthAdjust="spacingAndGlyphs" stroke="#262626" stroke-width="0.1" transform="rotate(0.06 410.85 316.50)">155,000</text>
<line x1="429.48" y1="306.10" x2="429.48" y2="308.60" stroke="#1e1e1e" stroke-width="1.1"/>
<text x="429.48" y="316.50" font-size="5.0" text-anchor="middle" fill="#262626" font-weight="normal" textLength="16.44" lengthAdjust="spacingAndGlyphs" stroke="#262626" stroke-width="0.1" transform="rotate(0.06 429.48 316.50)">178,000</text>
<line x1="448.11" y1="306.10" x2="448.11" y2="308.60" stroke="#1e1e1e" stroke-width="1.1"/>
<text x="448.11" y="316.50" font-size="5.0" text-anchor="middle" fill="#262626" font-weight="normal" textLength="16.44" lengthAdjust="spacingAndGlyphs" stroke="#262626" stroke-width="0.1" transform="rotate(0.06 448.11 316.50)">201,000</text>
<line x1="466.74" y1="306.10" x2="466.74" y2="308.60" stroke="#1e1e1e" stroke-width="1.1"/>
<text x="466.74" y="316.50" font-size="5.0" text-anchor="middle" fill="#262626" font-weight="normal" textLength="16.44" lengthAdjust="spacingAndGlyphs" stroke="#262626" stroke-width="0.1" transform="rotate(0.06 466.74 316.50)">224,000</text>
<line x1="485.37" y1="306.10" x2="485.37" y2="308.60" stroke="#1e1e1e" stroke-width="1.1"/>
<text x="485.37" y="316.50" font-size="5.0" text-anchor="middle" fill="#262626" font-weight="normal" textLength="16.44" lengthAdjust="spacingAndGlyphs" stroke="#262626" stroke-width="0.1" transform="rotate(0.06 485.37 316.50)">247,000</text>
<line x1="504.00" y1="306.10" x2="504.00" y2="308.60" stroke="#1e1e1e" stroke-width="1.1"/>
<text x="504.00" y="316.50" font-size="5.0" text-anchor="middle" fill="#262626" font-weight="normal" textLength="16.44" lengthAdjust="spacingAndGlyphs" stroke="#262626" stroke-width="0.1" transform="rotate(0.06 504.00 316.50)">270,000</text>
<line x1="350.40" y1="194.80" x2="350.40" y2="305.10" stroke="#c2c2c2" stroke-width="0.9" stroke-dasharray="1.8 2.77"/>
<text x="0" y="0" font-size="3.2" fill="#3a3a3a" stroke="#3a3a3a" stroke-width="0.08" text-anchor="middle" textLength="10.2" lengthAdjust="spacingAndGlyphs" transform="translate(348.7,202.9) rotate(-89.94)">80,848</text>
<line x1="315.60" y1="281.50" x2="502.30" y2="281.50" stroke="#c2c2c2" stroke-width="0.9" stroke-dasharray="2.3 2.3"/>
<text x="475.80" y="278.90" font-size="3.4" text-anchor="start" fill="#666" font-weight="normal" textLength="24.4" lengthAdjust="spacingAndGlyphs" stroke="#666" stroke-width="0.04" transform="rotate(0.06 475.80 278.90)">WTP: 195300.0</text>
<line x1="504.00" y1="197.40" x2="504.00" y2="305.10" stroke="#d2228f" stroke-width="1.4" stroke-dasharray="1.9 2.75"/>
<line x1="317.70" y1="303.20" x2="504.00" y2="303.20" stroke="#6580b3" stroke-width="2.0"/>
<circle cx="317.70" cy="303.20" r="1.75" fill="#1e3b7d"/>
<circle cx="336.33" cy="303.20" r="1.75" fill="#1e3b7d"/>
<circle cx="354.96" cy="303.20" r="1.75" fill="#1e3b7d"/>
<circle cx="373.59" cy="303.20" r="1.75" fill="#1e3b7d"/>
<circle cx="392.22" cy="303.20" r="1.75" fill="#1e3b7d"/>
<circle cx="410.85" cy="303.20" r="1.75" fill="#1e3b7d"/>
<circle cx="429.48" cy="303.20" r="1.75" fill="#1e3b7d"/>
<circle cx="448.11" cy="303.20" r="1.75" fill="#1e3b7d"/>
<circle cx="466.74" cy="303.20" r="1.75" fill="#1e3b7d"/>
<circle cx="485.37" cy="303.20" r="1.75" fill="#1e3b7d"/>
<circle cx="504.00" cy="303.20" r="1.75" fill="#1e3b7d"/>
<polyline fill="none" stroke="#b3173c" stroke-width="1.15" points="317.70,299.00 336.33,289.20 354.96,279.60 373.59,270.00 392.22,260.40 410.85,250.40 429.48,241.20 448.11,231.50 466.74,221.90 485.37,212.70 504.00,203.10"/>
<path d="M317.70,296.79 L319.75,300.48 L315.65,300.48Z" fill="#a5042a"/>
<path d="M336.33,286.99 L338.38,290.68 L334.28,290.68Z" fill="#a5042a"/>
<path d="M354.96,277.39 L357.01,281.08 L352.91,281.08Z" fill="#a5042a"/>
<path d="M373.59,267.79 L375.64,271.48 L371.54,271.48Z" fill="#a5042a"/>
<path d="M392.22,258.19 L394.27,261.88 L390.17,261.88Z" fill="#a5042a"/>
<path d="M410.85,248.19 L412.90,251.88 L408.80,251.88Z" fill="#a5042a"/>
<path d="M429.48,238.99 L431.53,242.68 L427.43,242.68Z" fill="#a5042a"/>
<path d="M448.11,229.29 L450.16,232.98 L446.06,232.98Z" fill="#a5042a"/>
<path d="M466.74,219.69 L468.79,223.38 L464.69,223.38Z" fill="#a5042a"/>
<path d="M485.37,210.49 L487.42,214.18 L483.32,214.18Z" fill="#a5042a"/>
<path d="M504.00,200.89 L506.05,204.58 L501.95,204.58Z" fill="#a5042a"/>
<text x="325.60" y="186.70" font-size="6.8" text-anchor="start" fill="#222" font-weight="normal" stroke="#222" stroke-width="0.12" transform="rotate(0.06 325.60 186.70)">Sensitivity Analysis (Cost of Caplacizumab, HERCULES)</text>
<text x="380.90" y="327.20" font-size="7.9" text-anchor="start" fill="#383838" font-weight="normal" textLength="59.2" lengthAdjust="spacingAndGlyphs" stroke="#383838" stroke-width="0.06" transform="rotate(0.06 380.90 327.20)">Cost of caplacizumab ($)</text>
<text x="0" y="0" font-size="5.3" fill="#2a2a2a" stroke="#2a2a2a" stroke-width="0.14" text-anchor="middle" textLength="35" lengthAdjust="spacingAndGlyphs" transform="translate(281.5,248.7) rotate(-89.94)">ICER ($/QALY)</text>
<line x1="314.10" y1="334.60" x2="320.20" y2="334.60" stroke="#b3173c" stroke-width="1.0"/>
<path d="M317.15,332.98 L318.65,335.68 L315.65,335.68Z" fill="#a5042a"/>
<line x1="314.10" y1="342.80" x2="320.20" y2="342.80" stroke="#7d93ba" stroke-width="1.0"/>
<circle cx="317.15" cy="342.80" r="1.4" fill="#1e3b7d"/>
<text x="322.80" y="336.30" font-size="4.66" text-anchor="start" fill="#333" font-weight="normal" stroke="#333" stroke-width="0.12" transform="rotate(0.06 322.80 336.30)">SOC + Capla</text>
<text x="322.80" y="344.50" font-size="4.66" text-anchor="start" fill="#333" font-weight="normal" stroke="#333" stroke-width="0.12" transform="rotate(0.06 322.80 344.50)">SOC</text>
<text x="267.60" y="177.60" font-size="12.7" text-anchor="start" fill="#000" font-weight="bold" stroke="#000" stroke-width="0.5" transform="rotate(0.06 267.60 177.60)">D</text>
</svg>
</body></html>
